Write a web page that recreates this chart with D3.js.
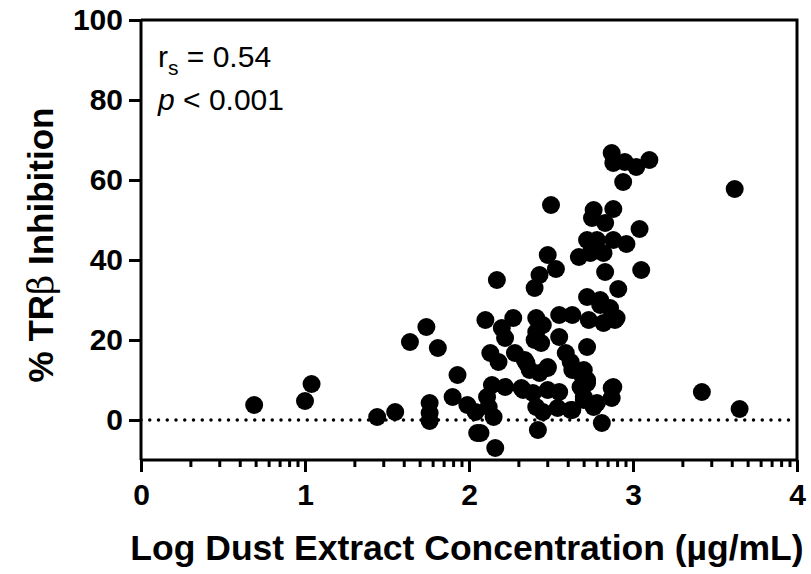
<!DOCTYPE html>
<html lang="en">
<head>
    <meta charset="UTF-8">
    <title>TRβ inhibition vs dust extract</title>
    <style>
        body { margin: 0; background: #fff; }
        svg text { font-family: "Liberation Sans", Arial, sans-serif; }
    </style>
</head>
<body>
    <svg id="container" width="811" height="574"></svg>

<script src="https://cdn.jsdelivr.net/npm/d3@7"></script>
<script>
    // log dust extract concentration (x) and % TRβ inhibition (y)
    let dustLog = [
        0.69, 1.00, 1.04, 1.44, 1.55, 1.76, 1.76, 1.76, 1.74, 1.64, 1.81, 1.93, 1.90, 1.99, 2.04, 2.05, 2.12, 2.15, 2.16, 2.11,
        2.87, 2.95, 3.02, 3.10, 2.88, 2.94, 2.50, 2.76, 2.88, 2.75, 2.83, 3.04, 2.72, 2.78, 2.88, 2.96, 2.67, 2.74, 2.82, 2.48,
        2.53, 2.43, 2.40, 2.17, 2.83, 3.05, 2.91, 2.72, 2.80, 2.86, 2.90, 2.82, 2.73, 2.63, 2.55, 2.41, 2.41, 2.45, 2.40, 2.44,
        2.27, 2.20, 2.22, 2.10, 2.55, 2.72, 2.13, 2.18, 2.28, 2.34, 2.37, 2.43, 2.48, 2.59, 2.62, 2.63, 2.70, 2.72, 2.68, 2.14,
        2.22, 2.32, 2.39, 2.48, 2.55, 2.88, 2.87, 2.41, 2.45, 2.54, 2.63, 2.70, 2.78, 2.81, 2.42, 2.07,
        2.80, 2.89, 2.68, 2.72, 2.70, 2.76, 2.62, 2.87, 2.35, 2.48, 2.33,
        3.62, 3.42, 3.65
    ]
    let inhibition = [
        3.75, 4.75, 9, 0.75, 2, 4.25, 1.75, -0.25, 23.25, 19.5, 18, 11.25, 5.75, 3.75, 2, -3.25, 3.25, 0.75, -7, 5.75,
        66.75, 64.5, 63.25, 65, 64.25, 59.5, 53.75, 52.5, 52.75, 50.5, 49.25, 47.75, 45, 45, 45, 44, 40.75, 41.75, 41.75, 41.25,
        37.75, 36.25, 33, 35, 37, 37.5, 32.75, 30.75, 30, 28, 25.5, 24.25, 25, 26.25, 26.25, 25.5, 22, 23.75, 20, 19.25,
        25.5, 23, 20.5, 25, 20.75, 18.25, 16.75, 14.5, 16.75, 15, 12.5, 11.75, 13, 16.75, 14.5, 12.5, 12.5, 10, 8.25, 8.75,
        8.25, 8, 6.75, 7.5, 7, 8.25, 5.5, 3.25, 2, 3, 2.5, 5.75, 4.25, -0.75, -2.5, -3.25,
        28.75, 25, 11.75, 9.25, 5, 3.25, 2.5, 8, 14.25, 13.25, 7.5,
        57.75, 7, 2.75
    ]
    let xTicks = [0, 1, 2, 3, 4]
    let yTicks = [0, 20, 40, 60, 80, 100]

    let svg = d3.select("#container")
    let plotLeft = 141, plotTop = 20, plotW = 656, plotH = 440

    let xScale = d3.scaleLinear().domain([0, 4]).range([plotLeft, plotLeft + plotW])
    let yScale = d3.scaleLinear().domain([-10, 100]).range([plotTop + plotH, plotTop])

    // minor ticks in log spacing between the decades
    let minorTicks = []
    for (let k = 0; k < 4; k++) {
        for (let m = 2; m <= 9; m++) minorTicks.push(k + Math.log10(m))
    }

    // zero reference line
    svg.append("line")
        .attr("x1", xScale(0)).attr("x2", xScale(4))
        .attr("y1", yScale(0)).attr("y2", yScale(0))
        .attr("stroke", "#000").attr("stroke-width", 3.5)
        .attr("stroke-linecap", "round")
        .attr("stroke-dasharray", "0,8.75")

    // points
    let points = dustLog.map((d, i) => ({ x: d, y: inhibition[i] }))
    svg.append("g").selectAll("circle")
        .data(points)
        .enter()
        .append("circle")
        .attr("cx", d => xScale(d.x))
        .attr("cy", d => yScale(d.y))
        .attr("r", 9)
        .attr("fill", "#000")

    // frame (top and right)
    svg.append("path")
        .attr("d", `M${plotLeft},${plotTop}H${plotLeft + plotW}V${plotTop + plotH}`)
        .attr("fill", "none").attr("stroke", "#000").attr("stroke-width", 3)

    // x axis
    let xAxis = d3.axisBottom(xScale).tickValues(xTicks).tickSize(12).tickPadding(12).tickFormat(d3.format("d"))
    let xAxisGroup = svg.append("g")
        .attr("transform", `translate(0,${plotTop + plotH})`)
        .call(xAxis)

    let xMinor = d3.axisBottom(xScale).tickValues(minorTicks).tickSize(7).tickFormat("")
    let xMinorGroup = svg.append("g")
        .attr("transform", `translate(0,${plotTop + plotH})`)
        .call(xMinor)
    xMinorGroup.select(".domain").remove()
    xMinorGroup.selectAll(".tick line").attr("stroke-width", 3)

    // y axis
    let yAxis = d3.axisLeft(yScale).tickValues(yTicks).tickSize(12).tickPadding(6)
    let yAxisGroup = svg.append("g")
        .attr("transform", `translate(${plotLeft},0)`)
        .call(yAxis)

    for (let g of [xAxisGroup, yAxisGroup]) {
        g.select(".domain").attr("stroke-width", 3)
        g.selectAll(".tick line").attr("stroke-width", 3)
        g.selectAll(".tick text")
            .attr("font-size", 30).attr("font-weight", "bold")
            .attr("font-family", "Liberation Sans, Arial, sans-serif")
            .attr("fill", "#000")
    }
    xAxisGroup.select(".domain").attr("d", `M${plotLeft},0H${plotLeft + plotW}`)
    yAxisGroup.select(".domain").attr("d", `M0,${plotTop + plotH}V${plotTop}`)

    // axis titles
    svg.append("text")
        .attr("x", 467).attr("y", 560)
        .attr("text-anchor", "middle")
        .attr("font-size", 35.5).attr("font-weight", "bold")
        .text("Log Dust Extract Concentration (µg/mL)")

    let yTitle = svg.append("text")
        .attr("transform", `translate(53,245) rotate(-90)`)
        .attr("text-anchor", "middle")
        .attr("font-size", 35).attr("font-weight", "bold")
    yTitle.append("tspan").text("% TR")
    yTitle.append("tspan").attr("font-weight", "normal").attr("font-family", "DejaVu Serif, serif").text("β")
    yTitle.append("tspan").text(" Inhibition")

    // statistics
    let rs = svg.append("text")
        .attr("x", 158).attr("y", 67)
        .attr("font-size", 30)
    rs.append("tspan").text("r")
    rs.append("tspan").attr("font-size", 21).attr("dy", 8).text("s")
    rs.append("tspan").attr("dy", -8).text(" = 0.54")

    let pv = svg.append("text")
        .attr("x", 158).attr("y", 110)
        .attr("font-size", 30)
    pv.append("tspan").attr("font-style", "italic").text("p")
    pv.append("tspan").text(" < 0.001")
</script>
</body>
</html>
